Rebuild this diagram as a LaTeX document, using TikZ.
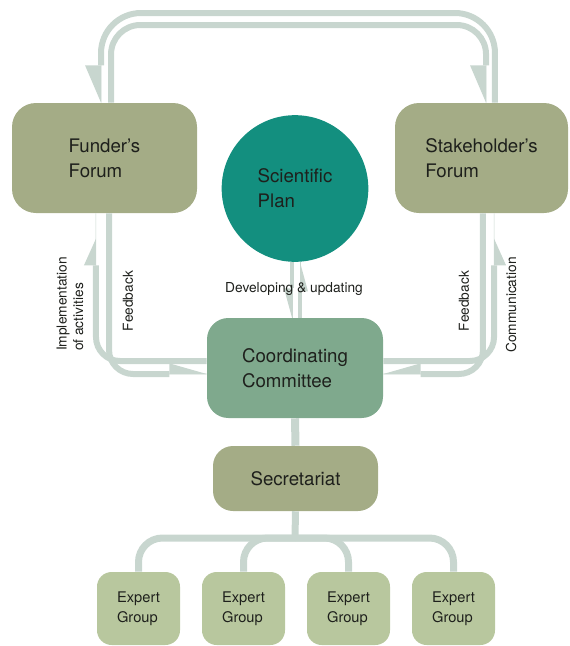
\documentclass[tikz,border=0pt]{standalone}
\usepackage{fontspec}
\setmainfont{TeX Gyre Heros}
\usetikzlibrary{arrows.meta}

\definecolor{forumc}{RGB}{164,172,134}
\definecolor{planc}{RGB}{19,143,127}
\definecolor{commc}{RGB}{127,169,141}
\definecolor{expc}{RGB}{184,199,158}
\definecolor{linkc}{RGB}{200,214,207}
\definecolor{txtc}{RGB}{30,32,28}

\tikzset{
  box/.style={fill=forumc, rounded corners=18pt, inner sep=0pt, text=txtc, align=left, font=\fontsize{14}{18.75}\selectfont},
  expbox/.style={box, fill=expc, minimum width=62.25pt, minimum height=54.75pt, rounded corners=11pt, font=\fontsize{11}{15}\selectfont},
  lbl/.style={inner sep=0pt, text=txtc, align=left, font=\fontsize{10.3}{12.5}\selectfont},
  link/.style={draw=linkc, line width=4.5pt, rounded corners=18pt, preaction={draw=linkc, arrows=-, shorten >=0pt}},
  thinlink/.style={link, line width=3.5pt},
  tree/.style={draw=linkc, line width=5.25pt, rounded corners=18pt},
  halfl/.style 2 args={-{Stealth[left, inset=0pt, length=#1, width=#2, line width=0pt]}},
  halfr/.style 2 args={-{Stealth[right, inset=0pt, length=#1, width=#2, line width=0pt]}}
}

\begin{document}
\begin{tikzpicture}[x=0.75pt,y=0.75pt,yscale=-1,xscale=1]
\useasboundingbox (0,0) rectangle (570,646);

% Forums
\node[box, minimum width=138.75pt, minimum height=82.5pt] (ff) at (104.5,158) {Funder's\\Forum};
\node[box, minimum width=129.75pt, minimum height=82.5pt] (sf) at (481.5,158) {Stakeholder's\\Forum};
% Scientific plan
\node[circle, fill=planc, minimum size=110pt, inner sep=0pt, text=txtc, align=left, font=\fontsize{14}{18.75}\selectfont] (sp) at (295,188.5) {Scientific\\Plan};
% Committee and secretariat
\node[box, fill=commc, minimum width=132pt, minimum height=75pt, rounded corners=16pt] (cc) at (295,368) {Coordinating\\Committee};
\node[box, minimum width=123.75pt, minimum height=48.75pt, rounded corners=15pt] (sec) at (295.5,478.5) {Secretariat};
% Expert groups
\node[expbox] (eg1) at (138.5,608.5) {Expert\\Group};
\node[expbox] (eg2) at (243.5,608.5) {Expert\\Group};
\node[expbox] (eg3) at (348.5,608.5) {Expert\\Group};
\node[expbox] (eg4) at (453.5,608.5) {Expert\\Group};

\coordinate (archO) at (298,13);
\coordinate (archI) at (298,25);
\coordinate (jn) at (295,538);

%Top arch
\draw[link, halfr={28pt}{24pt}, rounded corners=30pt] ([xshift=10.1pt]sf.north) |- (archO) -| ([xshift=-2.6pt]ff.north);
\draw[link, halfr={28pt}{24pt}, rounded corners=22pt] ([xshift=4.9pt]ff.north) |- (archI) -| ([xshift=3.4pt]sf.north);
%Left side
\draw[link, halfl={28pt}{16pt}] ([xshift=3.4pt]ff.south) |- ([yshift=4.5pt]cc.west);
\draw[link, halfl={20pt}{18pt}, shorten >=19pt] ([yshift=-5.25pt]cc.west) -| ([xshift=-6.4pt]ff.south);
%Right side
\draw[link, halfr={28pt}{16pt}] ([xshift=1.1pt]sf.south) |- ([yshift=4.5pt]cc.east);
\draw[link, halfr={20pt}{18pt}, shorten >=19pt] ([yshift=-5.25pt]cc.east) -| ([xshift=9.4pt]sf.south);
%Plan and committee
\draw[thinlink, halfr={22pt}{12pt}] ([xshift=-2.25pt]sp.south) -- ([xshift=-2.25pt]cc.north);
\draw[thinlink, halfr={22pt}{12pt}] ([xshift=3.75pt]cc.north) -- ([xshift=3.75pt]sp.south);
%Tree
\draw[tree, line width=6pt] (cc.south) -- (sec.north);
\draw[tree] (sec.south) -- (jn);
\draw[tree] (eg1.north) |- (jn) -| (eg4.north);
\draw[tree] (eg2.north) |- (jn);
\draw[tree] (eg3.north) |- (jn);

% Text Node
\node[lbl, align=center] (devlbl) at (294,289) {Developing \& updating};
% Text Node
\node[lbl, rotate=90] (impllbl) at (70,304) {Implementation\\of activities};
% Text Node
\node[lbl, rotate=90] (fbl) at (128,301) {Feedback};
% Text Node
\node[lbl, rotate=90] (fbr) at (464,301) {Feedback};
% Text Node
\node[lbl, rotate=90] (commlbl) at (511,305) {Communication};

\end{tikzpicture}
\end{document}
